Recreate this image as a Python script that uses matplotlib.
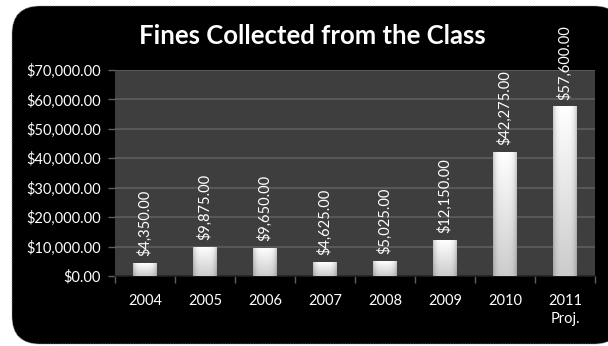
import matplotlib.pyplot as plt
from matplotlib.patches import FancyBboxPatch
import numpy as np

# chart data
years = ["2004", "2005", "2006", "2007", "2008", "2009", "2010", "2011\nProj."]
fines = [4350, 9875, 9650, 4625, 5025, 12150, 42275, 57600]
value_labels = ["$4,350.00", "$9,875.00", "$9,650.00", "$4,625.00",
                "$5,025.00", "$12,150.00", "$42,275.00", "$57,600.00"]
y_ticks = [0, 10000, 20000, 30000, 40000, 50000, 60000, 70000]

plt.rcParams['font.family'] = ['Lato', 'DejaVu Sans']

fig = plt.figure(figsize=(6.08, 3.46), dpi=100)
fig.patch.set_facecolor("white")

# black rounded background panel
panel = FancyBboxPatch((0.12, 0.02), 6.1, 3.38,
                       boxstyle="round,pad=0,rounding_size=0.28",
                       transform=fig.dpi_scale_trans,
                       facecolor="black", edgecolor="#9a9a9a", linewidth=0.6,
                       linestyle=(0, (1, 1)), zorder=0)
fig.add_artist(panel)

ax = fig.add_axes([115 / 608, 1 - 276 / 346, 480 / 608, 206 / 346])
ax.set_facecolor("#3e3e3e")
ax.patch.set_zorder(0)

x = np.arange(len(years))
bars = ax.bar(x, fines, width=0.4, color="white", zorder=2)

# gradient fill inside each bar: white at top, gray toward bottom/edges
h = np.linspace(1.0, 0.8, 64)[:, None]
edge = 1 - 0.2 * np.abs(np.linspace(-1, 1, 32))[None, :] ** 4
grad = h * edge
for b in bars:
    img = ax.imshow(grad, extent=[b.get_x(), b.get_x() + b.get_width(), 0, b.get_height()],
                    aspect="auto", cmap="gray", vmin=0, vmax=1, zorder=3, origin="upper")
    img.set_clip_path(b)

for xi, v, lab in zip(x, fines, value_labels):
    ax.annotate(lab, (xi, v), xytext=(0, 5), textcoords="offset points",
                rotation=90, ha="center", va="bottom", color="white",
                fontsize=10.5, annotation_clip=False, zorder=4)

ax.set_xlim(-0.5, len(years) - 0.5)
ax.set_ylim(0, 70000)
ax.set_yticks(y_ticks)
ax.set_yticklabels(["${:,.2f}".format(t) for t in y_ticks])
ax.set_xticks(x)
ax.set_xticklabels(years, linespacing=1.4)
ax.set_xticks(np.arange(len(years) + 1) - 0.5, minor=True)

ax.yaxis.grid(True, color="#5e5e5e", linewidth=1.2, zorder=1)
ax.set_axisbelow(True)
for s in ["top", "right", "left"]:
    ax.spines[s].set_visible(False)
ax.spines["bottom"].set_color("#202020")
ax.spines["bottom"].set_linewidth(1.2)

ax.tick_params(axis="y", colors="#5e5e5e", labelcolor="white", labelsize=10.5,
               length=5, width=1, pad=5)
ax.tick_params(axis="x", which="major", length=0, labelcolor="white",
               labelsize=10.5, pad=13)
ax.tick_params(axis="x", which="minor", colors="#5e5e5e", length=5, width=1)

fig.text(312 / 608, 1 - 36 / 346, "Fines Collected from the Class",
         ha="center", va="center", color="white", fontsize=18.5, fontweight="bold")

fig.savefig("out.png", dpi=100, facecolor="white")
